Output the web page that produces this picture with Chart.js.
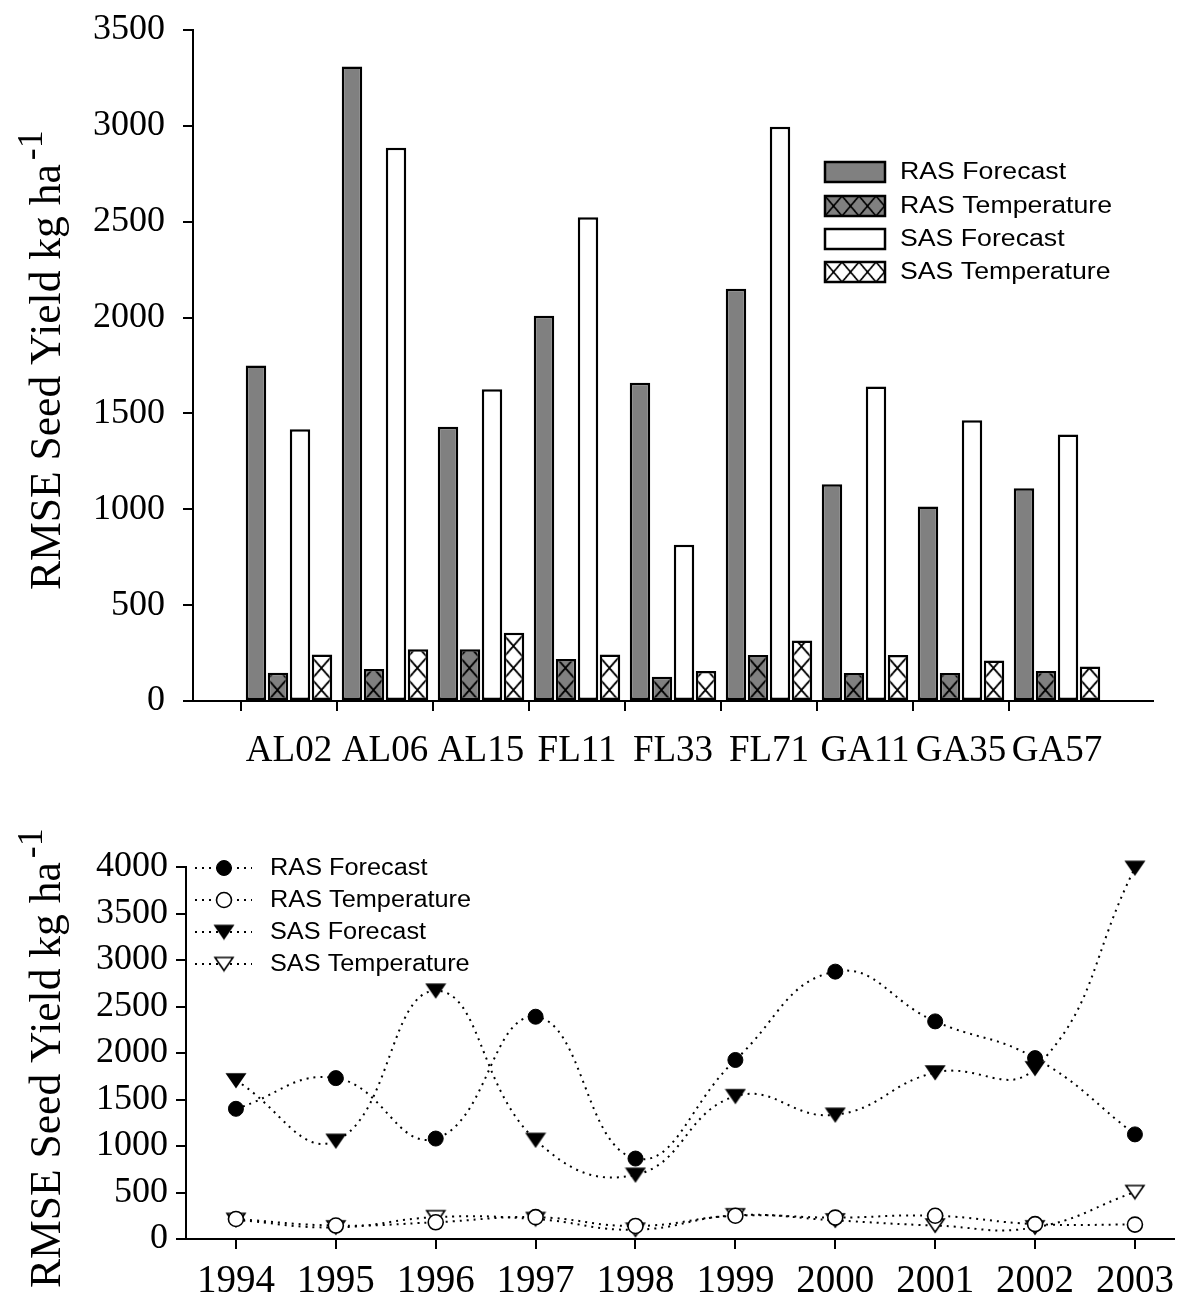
<!DOCTYPE html>
<html>
<head>
<meta charset="utf-8">
<script src="https://cdn.jsdelivr.net/npm/chart.js@4/dist/chart.umd.min.js"></script>
<style>
html,body{margin:0;padding:0;background:#fff;overflow:hidden;width:1185px;height:1304px}
#c1{position:absolute;left:0;top:0}
#c2{position:absolute;left:0;top:790px}
</style>
</head>
<body>
<canvas id="c1" width="1185" height="790"></canvas>
<canvas id="c2" width="1185" height="514"></canvas>
<script>
// ---------- data: top bar chart ----------
const sites = ['AL02','AL06','AL15','FL11','FL33','FL71','GA11','GA35','GA57'];
const rasForecastBar = [1750, 3310, 1430, 2010, 1660, 2150, 1130, 1015, 1110];
const rasTemperatureBar = [147, 167, 270, 219, 127, 240, 146, 146, 157];
const sasForecastBar = [1418, 2886, 1626, 2523, 815, 2995, 1640, 1465, 1390];
const sasTemperatureBar = [242, 270, 356, 242, 157, 315, 240, 211, 180];
const barYTicks = [0, 500, 1000, 1500, 2000, 2500, 3000, 3500];

// ---------- data: bottom line chart ----------
const years = [1994, 1995, 1996, 1997, 1998, 1999, 2000, 2001, 2002, 2003];
const rasForecastLine = [1400, 1730, 1080, 2390, 865, 1925, 2875, 2340, 1945, 1125];
const rasTemperatureLine = [215, 145, 180, 235, 140, 250, 230, 250, 160, 155];
const sasForecastLine = [1705, 1055, 2670, 1065, 690, 1535, 1335, 1790, 1835, 3990];
const sasTemperatureLine = [205, 125, 235, 215, 100, 255, 200, 145, 125, 505];
const lineYTicks = [0, 500, 1000, 1500, 2000, 2500, 3000, 3500, 4000];

const seriesNames = ['RAS Forecast', 'RAS Temperature', 'SAS Forecast', 'SAS Temperature'];
const yTitle = 'RMSE Seed Yield kg ha';
const yTitleSup = '-1';

const SERIF = '"Liberation Serif", "Times New Roman", serif';
const SANS = '"Liberation Sans", Arial, sans-serif';
const GRAY = '#808080';

// ---------- helpers ----------
function hatchTile(bg, w, h, lw) {
  const c = document.createElement('canvas');
  c.width = w; c.height = h;
  const x = c.getContext('2d');
  x.fillStyle = bg; x.fillRect(0, 0, w, h);
  x.strokeStyle = '#000'; x.lineWidth = lw;
  x.beginPath();
  x.moveTo(0, 0); x.lineTo(w, h);
  x.moveTo(w, 0); x.lineTo(0, h);
  x.stroke();
  return c;
}
function makePattern(ctx, bg, tx, ty) {
  const p = ctx.createPattern(hatchTile(bg, 24, 24, 2.2), 'repeat');
  p.setTransform(new DOMMatrix().translate(tx, ty).scale(19.2 / 24, 22 / 24));
  return p;
}
function triImage(fill) {
  const c = document.createElement('canvas');
  c.width = 22; c.height = 17;
  const x = c.getContext('2d');
  x.beginPath();
  x.moveTo(2, 2); x.lineTo(20, 2); x.lineTo(11, 15); x.closePath();
  x.fillStyle = fill; x.fill();
  x.strokeStyle = '#000'; x.lineWidth = 1.6; x.lineJoin = 'miter'; x.stroke();
  return c;
}
function stretchedText(ctx, text, x, y, sx) {
  ctx.save(); ctx.translate(x, y); ctx.scale(sx, 1); ctx.fillText(text, 0, 0); ctx.restore();
}
function drawYTitle(ctx, startY, baseX) {
  ctx.save();
  ctx.fillStyle = '#000';
  ctx.translate(baseX, startY);
  ctx.rotate(-Math.PI / 2);
  ctx.scale(0.99, 1);
  ctx.font = '44px ' + SERIF;
  ctx.textBaseline = 'alphabetic';
  ctx.textAlign = 'left';
  ctx.fillText(yTitle, 0, 0);
  const w = ctx.measureText(yTitle).width;
  ctx.font = '36px ' + SERIF;
  ctx.fillText(yTitleSup, w + 4, -18);
  ctx.restore();
}
function noPadY(s, w) { s.width = w; s.paddingTop = 0; s.paddingBottom = 0; }
function noPadX(s, h) { s.height = h; s.paddingLeft = 0; s.paddingRight = 0; }

// ---------- top chart ----------
const ctx1 = document.getElementById('c1').getContext('2d');
const pad = a => [null, ...a, null];
const patRasT = makePattern(ctx1, GRAY, 267.8 % 19.2, 701 % 22);
const patSasT = makePattern(ctx1, '#fff', 311.8 % 19.2, 701 % 22);

const barFills = [GRAY, patRasT, '#fff', patSasT];
const barBgForLegend = [GRAY, GRAY, '#fff', '#fff'];
const barHatched = [false, true, false, true];

const topDecor = {
  id: 'topDecor',
  afterDraw(chart) {
    const c = chart.ctx;
    const rows = [172, 206, 239, 272];
    const bx = 825, bw = 60, bh = 20;
    rows.forEach((ry, i) => {
      const top = ry - bh / 2;
      c.save();
      if (barHatched[i]) {
        const p = c.createPattern(hatchTile(barBgForLegend[i], 24, 24, 2.2), 'repeat');
        p.setTransform(new DOMMatrix().translate(bx, top).scale(17 / 24, 20 / 24));
        c.fillStyle = p;
      } else {
        c.fillStyle = barBgForLegend[i];
      }
      c.fillRect(bx, top, bw, bh);
      c.lineWidth = 2.5; c.strokeStyle = '#000';
      c.strokeRect(bx, top, bw, bh);
      c.fillStyle = '#000';
      c.font = '23px ' + SANS;
      c.textBaseline = 'middle';
      c.textAlign = 'left';
      stretchedText(c, seriesNames[i], 900, ry + 1, 1.16);
      c.restore();
    });
    drawYTitle(c, 590, 60);
  }
};

new Chart(ctx1, {
  type: 'bar',
  data: {
    labels: ['', ...sites, ''],
    datasets: [
      { label: seriesNames[0], data: pad(rasForecastBar) },
      { label: seriesNames[1], data: pad(rasTemperatureBar) },
      { label: seriesNames[2], data: pad(sasForecastBar) },
      { label: seriesNames[3], data: pad(sasTemperatureBar) }
    ].map((d, i) => Object.assign(d, {
      backgroundColor: barFills[i],
      borderColor: '#000',
      borderWidth: 2.5,
      borderSkipped: false,
      categoryPercentage: 0.917,
      barPercentage: 0.93
    }))
  },
  options: {
    responsive: false,
    animation: false,
    events: [],
    layout: { padding: { left: 0, right: 32, top: 30, bottom: 0 } },
    plugins: { legend: { display: false }, tooltip: { enabled: false } },
    scales: {
      x: {
        offset: false,
        afterFit(s) { noPadX(s, 89); },
        grid: {
          drawOnChartArea: false,
          drawTicks: true,
          tickLength: 10,
          lineWidth: 2,
          tickColor: c => (c.tick && c.tick.label === '') ? 'rgba(0,0,0,0)' : '#000'
        },
        border: { display: true, color: '#000', width: 2 },
        ticks: {
          color: '#000',
          font: { family: SERIF, size: 37 },
          padding: 18,
          autoSkip: false,
          maxRotation: 0
        }
      },
      y: {
        min: barYTicks[0],
        max: barYTicks[barYTicks.length - 1],
        afterFit(s) { noPadY(s, 193); },
        afterBuildTicks(s) { s.ticks = barYTicks.map(v => ({ value: v })); },
        grid: { drawOnChartArea: false, drawTicks: true, tickLength: 10, lineWidth: 2, color: '#000' },
        border: { display: true, color: '#000', width: 2 },
        ticks: {
          color: '#000',
          font: { family: SERIF, size: 36 },
          padding: 18,
          autoSkip: false,
          callback: v => String(v)
        }
      }
    }
  },
  plugins: [topDecor]
});

// ---------- bottom chart ----------
const ctx2 = document.getElementById('c2').getContext('2d');
const triFilled = triImage('#000');
const triOpen = triImage('#fff');
const lineStyles = [
  { pointStyle: 'circle', pointRadius: 7.5, pointBackgroundColor: '#000', pointBorderColor: '#000', pointBorderWidth: 1 },
  { pointStyle: 'circle', pointRadius: 7.5, pointBackgroundColor: '#fff', pointBorderColor: '#000', pointBorderWidth: 1.6 },
  { pointStyle: triFilled, pointRadius: 9 },
  { pointStyle: triOpen, pointRadius: 9 }
];
const lineSeries = [rasForecastLine, rasTemperatureLine, sasForecastLine, sasTemperatureLine];

const bottomDecor = {
  id: 'bottomDecor',
  afterDraw(chart) {
    const c = chart.ctx;
    const rows = [78, 110, 142, 174];
    rows.forEach((ry, i) => {
      c.save();
      c.strokeStyle = '#000';
      c.lineWidth = 2;
      c.setLineDash([2, 5]);
      c.beginPath(); c.moveTo(195, ry); c.lineTo(252, ry); c.stroke();
      c.setLineDash([]);
      const st = lineStyles[i];
      if (st.pointStyle === 'circle') {
        c.beginPath(); c.arc(224, ry, st.pointRadius, 0, Math.PI * 2);
        c.fillStyle = st.pointBackgroundColor; c.fill();
        c.lineWidth = st.pointBorderWidth; c.strokeStyle = '#000'; c.stroke();
      } else {
        const img = st.pointStyle;
        c.drawImage(img, 224 - img.width / 2, ry - img.height / 2);
      }
      c.fillStyle = '#000';
      c.font = '23px ' + SANS;
      c.textBaseline = 'middle';
      c.textAlign = 'left';
      stretchedText(c, seriesNames[i], 270, ry + 1, 1.1);
      c.restore();
    });
    drawYTitle(c, 1288 - 790, 60);
  }
};

new Chart(ctx2, {
  type: 'line',
  data: {
    datasets: lineSeries.map((arr, i) => Object.assign({
      label: seriesNames[i],
      data: years.map((yr, k) => ({ x: yr, y: arr[k] })),
      borderColor: '#000',
      borderWidth: 2,
      borderDash: [2, 5],
      tension: 0.45,
      fill: false,
      clip: false
    }, lineStyles[i]))
  },
  options: {
    responsive: false,
    animation: false,
    events: [],
    layout: { padding: { left: 0, right: 0, top: 77, bottom: 0 } },
    plugins: { legend: { display: false }, tooltip: { enabled: false } },
    scales: {
      x: {
        type: 'linear',
        bounds: 'data',
        min: 1993.5,
        max: 1993.5 + 999 / 101,
        afterFit(s) { noPadX(s, 65); },
        afterBuildTicks(s) { s.ticks = years.map(v => ({ value: v })); },
        grid: { drawOnChartArea: false, drawTicks: true, tickLength: 10, lineWidth: 2, color: '#000' },
        border: { display: true, color: '#000', width: 2 },
        ticks: {
          color: '#000',
          font: { family: SERIF, size: 39 },
          padding: 9,
          autoSkip: false,
          maxRotation: 0,
          callback: v => String(v)
        }
      },
      y: {
        min: lineYTicks[0],
        max: lineYTicks[lineYTicks.length - 1],
        afterFit(s) { noPadY(s, 186); },
        afterBuildTicks(s) { s.ticks = lineYTicks.map(v => ({ value: v })); },
        grid: { drawOnChartArea: false, drawTicks: true, tickLength: 10, lineWidth: 2, color: '#000' },
        border: { display: true, color: '#000', width: 2 },
        ticks: {
          color: '#000',
          font: { family: SERIF, size: 36 },
          padding: 8,
          autoSkip: false,
          callback: v => String(v)
        }
      }
    }
  },
  plugins: [bottomDecor]
});
</script>
</body>
</html>
